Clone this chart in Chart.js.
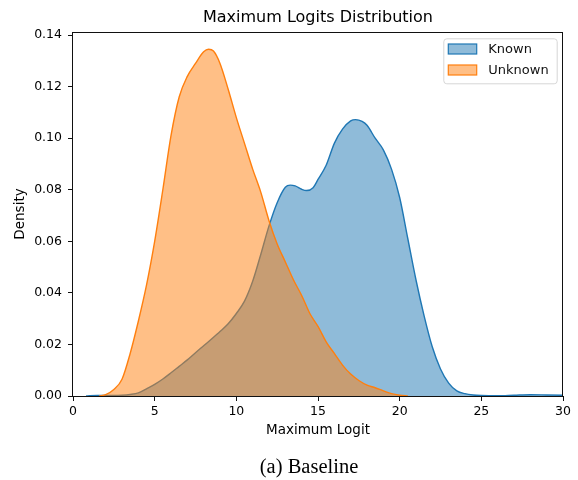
<!DOCTYPE html>
<html><head><meta charset="utf-8">
<script src="https://cdn.jsdelivr.net/npm/chart.js@4.4.1/dist/chart.umd.min.js"></script>
<style>html,body{margin:0;padding:0;background:#fff}#c{display:block}</style>
</head><body>
<canvas id="c" width="578" height="480"></canvas>
<script>
const seriesLabels = ['Known', 'Unknown'];
const knownX = [0.8, 1.5, 2.0, 2.5, 3.0, 3.5, 4.0, 4.5, 5.0, 5.5, 6.0, 6.5, 7.0, 7.5, 8.0, 8.5, 9.0, 9.5, 10.0, 10.5, 11.0, 11.5, 12.0, 12.5, 13.0, 13.3, 13.6, 14.0, 14.3, 14.7, 15.0, 15.5, 16.0, 16.5, 17.0, 17.3, 17.7, 18.0, 18.5, 19.0, 19.5, 20.0, 20.5, 21.0, 21.5, 22.0, 22.5, 23.0, 23.5, 24.0, 24.5, 25.0, 26.0, 27.0, 28.0, 29.0, 30.0];
const knownY = [0.0, 0.0002, 0.0002, 0.0002, 0.0003, 0.0006, 0.0012, 0.0028, 0.0045, 0.0066, 0.009, 0.0115, 0.014, 0.0168, 0.0195, 0.0222, 0.025, 0.028, 0.032, 0.0368, 0.0445, 0.055, 0.066, 0.075, 0.081, 0.0818, 0.0815, 0.0802, 0.0797, 0.0808, 0.084, 0.0895, 0.098, 0.1035, 0.1067, 0.1072, 0.1065, 0.105, 0.1, 0.0955, 0.088, 0.077, 0.061, 0.045, 0.031, 0.019, 0.0105, 0.005, 0.002, 0.0009, 0.0004, 0.0002, 0.0001, 0.0003, 0.0005, 0.0004, 0.0003];
const unknownX = [1.6, 2.0, 2.5, 3.0, 3.5, 4.0, 4.5, 5.0, 5.5, 6.0, 6.5, 7.0, 7.5, 8.0, 8.3, 8.6, 9.0, 9.5, 10.0, 10.5, 11.0, 11.5, 12.0, 12.5, 13.0, 13.5, 14.0, 14.5, 15.0, 15.5, 16.0, 16.5, 17.0, 17.5, 18.0, 18.5, 19.0, 19.5, 20.0, 20.5];
const unknownY = [0.0, 0.0005, 0.0025, 0.0065, 0.0165, 0.029, 0.043, 0.06, 0.08, 0.101, 0.116, 0.124, 0.129, 0.1335, 0.1345, 0.1338, 0.129, 0.119, 0.108, 0.098, 0.088, 0.079, 0.068, 0.059, 0.052, 0.045, 0.039, 0.032, 0.027, 0.021, 0.0165, 0.012, 0.0085, 0.006, 0.0042, 0.0032, 0.002, 0.0009, 0.0003, 0.0];
const xTicks = [0, 5, 10, 15, 20, 25, 30];
const yTicks = [0, 0.02, 0.04, 0.06, 0.08, 0.10, 0.12, 0.14];
const titleText = 'Maximum Logits Distribution';
const xLabel = 'Maximum Logit';
const yLabel = 'Density';
const captionText = '(a) Baseline';
const lineColors = ['#1f77b4', '#ff7f0e'];
const fillColors = ['rgba(31,119,180,0.5)', 'rgba(255,127,14,0.5)'];

const toPts = (xs, ys) => xs.map((x, i) => ({x: x, y: ys[i]}));
const FONT = '"DejaVu Sans", sans-serif';

const framePlugin = {
  id: 'frame',
  afterDatasetsDraw(chart) {
    const {ctx, chartArea: a} = chart;
    ctx.save();
    ctx.strokeStyle = '#111';
    ctx.lineWidth = 1;
    ctx.strokeRect(Math.round(a.left) - 0.5, Math.round(a.top) + 0.5, Math.round(a.right - a.left), Math.round(a.bottom - a.top));
    ctx.restore();
  }
};

const legendPlugin = {
  id: 'mplLegend',
  afterDraw(chart) {
    const {ctx, chartArea: a} = chart;
    const w = 113.4, h = 45;
    const bx = a.right - 6.3 - w, by = a.top + 6.3;
    ctx.save();
    ctx.beginPath();
    ctx.roundRect(bx + 0.5, by + 0.5, w, h, 3);
    ctx.fillStyle = 'rgba(255,255,255,0.8)';
    ctx.fill();
    ctx.strokeStyle = '#d6d6d6';
    ctx.lineWidth = 1;
    ctx.stroke();
    chart.data.datasets.forEach((ds, i) => {
      const sy = by + 5.7 + i * 21;
      ctx.fillStyle = '#fff';
      ctx.fillRect(bx + 5, sy, 28.4, 10);
      ctx.fillStyle = ds.backgroundColor;
      ctx.fillRect(bx + 5, sy, 28.4, 10);
      ctx.strokeStyle = ds.borderColor;
      ctx.lineWidth = 1.2;
      ctx.strokeRect(bx + 5, sy, 28.4, 10);
      ctx.fillStyle = '#111';
      ctx.font = '13px ' + FONT;
      ctx.textAlign = 'left';
      ctx.textBaseline = 'middle';
      ctx.fillText(ds.label, bx + 45, sy + 5.5);
    });
    ctx.restore();
  }
};

const captionPlugin = {
  id: 'caption',
  afterDraw(chart) {
    const ctx = chart.ctx;
    ctx.save();
    ctx.fillStyle = '#000';
    ctx.font = '20.5px "Liberation Serif", "Times New Roman", serif';
    ctx.textAlign = 'center';
    ctx.textBaseline = 'alphabetic';
    ctx.fillText(captionText, 309, 473.3);
    ctx.restore();
  }
};

new Chart(document.getElementById('c'), {
  type: 'line',
  data: {
    datasets: [
      {label: seriesLabels[0], data: toPts(knownX, knownY), borderColor: lineColors[0], backgroundColor: fillColors[0], fill: 'origin', order: 2},
      {label: seriesLabels[1], data: toPts(unknownX, unknownY), borderColor: lineColors[1], backgroundColor: fillColors[1], fill: 'origin', order: 1}
    ]
  },
  options: {
    responsive: false,
    animation: false,
    devicePixelRatio: 1,
    layout: {padding: {left: 0, right: 15, top: 0, bottom: 36}},
    elements: {
      point: {radius: 0, hoverRadius: 0},
      line: {borderWidth: 1.4, cubicInterpolationMode: 'monotone'}
    },
    plugins: {
      legend: {display: false},
      tooltip: {enabled: false},
      title: {
        display: true, text: titleText, fullSize: false, color: '#000',
        font: {family: FONT, size: 16, weight: 'normal'},
        padding: {top: 8, bottom: 4.8}
      }
    },
    scales: {
      x: {
        type: 'linear', min: 0, max: 30,
        afterBuildTicks: s => { s.ticks = xTicks.map(v => ({value: v})); },
        afterFit: s => { s.height = 48; },
        grid: {drawOnChartArea: false, drawTicks: true, tickLength: 5, color: '#111'},
        border: {display: false},
        ticks: {color: '#000', font: {family: FONT, size: 12.5}, padding: 3, maxRotation: 0, autoSkip: false, callback: v => String(v)},
        title: {display: true, text: xLabel, color: '#000', font: {family: FONT, size: 13.5}, padding: {top: 0, bottom: 5.5}}
      },
      y: {
        type: 'linear', min: 0, max: 0.1412,
        afterBuildTicks: s => { s.ticks = yTicks.map(v => ({value: v})); },
        afterFit: s => { s.width = 73; },
        grid: {drawOnChartArea: false, drawTicks: true, tickLength: 5, color: '#111'},
        border: {display: false},
        ticks: {color: '#000', font: {family: FONT, size: 12.5}, padding: 6, autoSkip: false, callback: v => v.toFixed(2)},
        title: {display: true, text: yLabel, color: '#000', font: {family: FONT, size: 13.5}, padding: {top: 12, bottom: 0}}
      }
    }
  },
  plugins: [framePlugin, legendPlugin, captionPlugin]
});
</script>
</body></html>
